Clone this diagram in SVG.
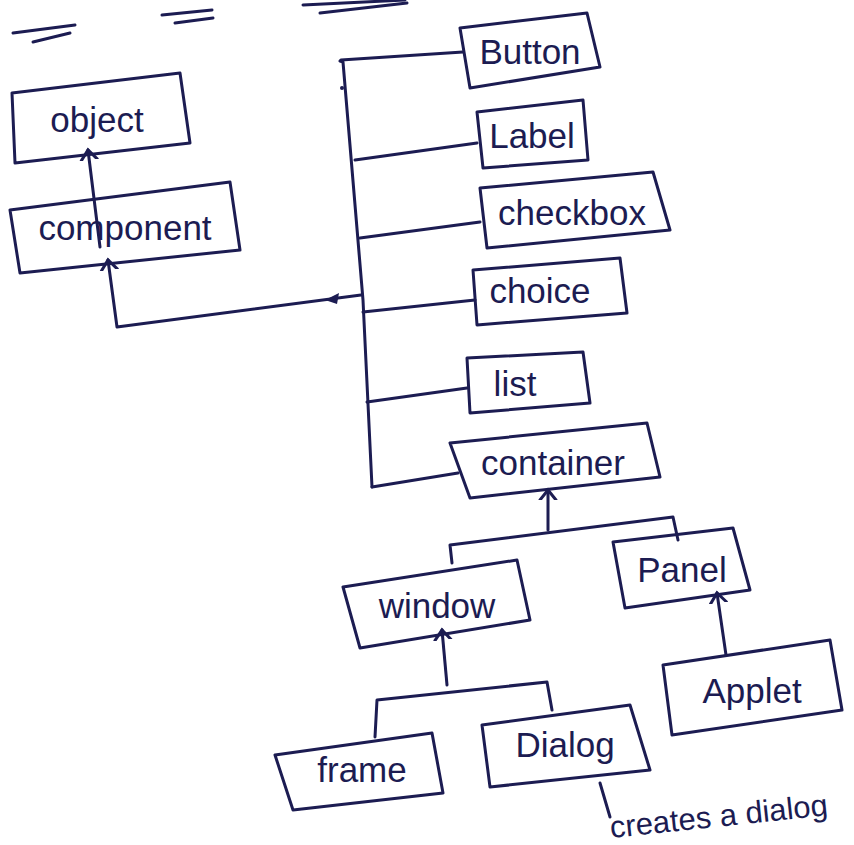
<svg xmlns="http://www.w3.org/2000/svg" width="854" height="845" viewBox="0 0 854 845">
<style>
.box{fill:none;stroke:#1c1c52;stroke-width:3;stroke-linejoin:round}
.ln{fill:none;stroke:#1c1c52;stroke-width:3;stroke-linecap:round;stroke-linejoin:round}
.lbl{font-family:"Liberation Sans","DejaVu Sans",sans-serif;font-size:35px;fill:#1c1c52;text-anchor:middle}
</style>
<defs>
<marker id="arr" viewBox="0 0 20 20" refX="10" refY="10" markerWidth="20" markerHeight="20" markerUnits="userSpaceOnUse" orient="auto">
<polyline points="0,2 10,10 0,18" fill="none" stroke="#1c1c52" stroke-width="3" stroke-linecap="round"/>
</marker>
</defs>
<rect width="854" height="845" fill="#ffffff"/>
<g id="underlines" class="ln">
<path d="M13,33 L75,25"/><path d="M33,42 L70,33"/>
<path d="M162,15 L212,10"/><path d="M175,23 L213,18"/>
<path d="M303,5 L405,0"/><path d="M320,13 L407,3"/>
</g>
<g id="connectors">
<path class="ln" d="M100,247 L88,150" marker-end="url(#arr)"/>
<path class="ln" d="M361,295 L117,327 L108,260" marker-end="url(#arr)"/>
<polygon points="325,300 339,293 337,304" fill="#1c1c52"/>
<path class="ln" d="M340,61 L343,62 L363,300 L372,487"/>
<circle cx="342" cy="88" r="2" fill="#1c1c52"/>
<path class="ln" d="M341,60 L463,52"/>
<path class="ln" d="M355,160 L477,143"/>
<path class="ln" d="M360,238 L480,222"/>
<path class="ln" d="M363,312 L475,300"/>
<path class="ln" d="M367,402 L467,388"/>
<path class="ln" d="M372,487 L458,473"/>
<path class="ln" d="M548,530 L548,490" marker-end="url(#arr)"/>
<path class="ln" d="M452,563 L450,545 L673,517 L678,540"/>
<path class="ln" d="M726,655 L717,593" marker-end="url(#arr)"/>
<path class="ln" d="M447,685 L442,630" marker-end="url(#arr)"/>
<path class="ln" d="M375,737 L377,700 L547,682 L552,710"/>
<path class="ln" d="M600,783 L610,817"/>
</g>
<g id="object">
<path class="box" d="M12,93 L180,73 L190,143 L15,163 Z"/>
<text class="lbl" x="97" y="132">object</text>
</g>
<g id="component">
<path class="box" d="M10,210 L230,182 L240,250 L20,273 Z"/>
<text class="lbl" x="125" y="240">component</text>
</g>
<g id="button">
<path class="box" d="M460,28 L587,13 L600,67 L470,88 Z"/>
<text class="lbl" x="530" y="64">Button</text>
</g>
<g id="label">
<path class="box" d="M477,112 L583,100 L588,160 L483,168 Z"/>
<text class="lbl" x="532" y="148">Label</text>
</g>
<g id="checkbox">
<path class="box" d="M480,188 L653,172 L670,230 L487,248 Z"/>
<text class="lbl" x="572" y="225">checkbox</text>
</g>
<g id="choice">
<path class="box" d="M473,270 L620,258 L627,313 L477,325 Z"/>
<text class="lbl" x="540" y="303">choice</text>
</g>
<g id="list">
<path class="box" d="M467,358 L583,352 L590,403 L470,413 Z"/>
<text class="lbl" x="515" y="396">list</text>
</g>
<g id="container">
<path class="box" d="M450,443 L647,423 L660,477 L470,498 Z"/>
<text class="lbl" x="553" y="475">container</text>
</g>
<g id="window">
<path class="box" d="M343,587 L517,560 L530,620 L360,648 Z"/>
<text class="lbl" x="437" y="618">window</text>
</g>
<g id="panel">
<path class="box" d="M613,542 L733,528 L750,590 L625,608 Z"/>
<text class="lbl" x="682" y="582">Panel</text>
</g>
<g id="applet">
<path class="box" d="M663,665 L830,640 L842,710 L672,735 Z"/>
<text class="lbl" x="752" y="703">Applet</text>
</g>
<g id="frame">
<path class="box" d="M275,755 L432,733 L443,793 L293,810 Z"/>
<text class="lbl" x="362" y="782">frame</text>
</g>
<g id="dialog">
<path class="box" d="M482,725 L630,705 L650,770 L490,787 Z"/>
<text class="lbl" x="565" y="757">Dialog</text>
</g>
<g id="note">
<text font-family="Liberation Sans, DejaVu Sans, sans-serif" font-size="31" fill="#1c1c52" transform="translate(611,838) rotate(-6)">creates a dialog</text>
</g>
</svg>
